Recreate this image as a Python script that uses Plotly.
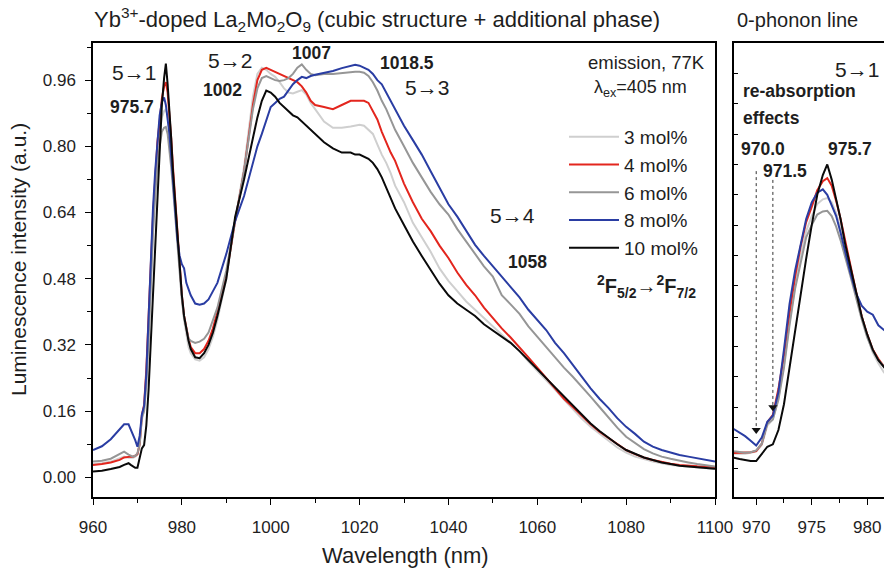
import plotly.graph_objects as go

W, H = 884, 569

wavelength = [960, 962, 964, 966, 967, 968, 968.5, 969, 969.5, 970, 970.5, 971, 971.5, 972, 972.5,
              973, 973.5, 974, 974.5, 975, 975.5, 976, 976.4, 976.8, 977.2, 977.6, 978, 978.5, 979,
              979.5, 980, 980.5, 981, 981.5, 982, 983, 984, 985, 986, 987, 988, 990, 992, 994, 996,
              997, 998, 999, 1000, 1001, 1002, 1003, 1004, 1005, 1006, 1007, 1008, 1009, 1010, 1012,
              1014, 1016, 1018, 1019, 1020, 1021, 1022, 1023, 1024, 1025, 1026, 1027, 1028, 1030,
              1032, 1034, 1036, 1038, 1040, 1042, 1044, 1046, 1048, 1050, 1052, 1054, 1056, 1058,
              1060, 1062, 1064, 1066, 1068, 1070, 1072, 1074, 1076, 1078, 1080, 1082, 1084, 1086,
              1088, 1090, 1092, 1094, 1096, 1098, 1100]

mol3 = [0.032, 0.034, 0.038, 0.045, 0.050, 0.047, 0.047, 0.047, 0.050, 0.055, 0.075, 0.140, 0.160, 0.230, 0.340,
        0.480, 0.600, 0.700, 0.780, 0.830, 0.870, 0.885, 0.889, 0.875, 0.840, 0.790, 0.730, 0.650, 0.570,
        0.500, 0.435, 0.380, 0.345, 0.315, 0.300, 0.285, 0.282, 0.290, 0.310, 0.340, 0.380, 0.480, 0.620, 0.750, 0.920,
        0.975, 0.990, 0.985, 0.975, 0.968, 0.955, 0.940, 0.930, 0.928, 0.932, 0.936, 0.925, 0.905, 0.890, 0.860,
        0.845, 0.845, 0.848, 0.850, 0.852, 0.850, 0.840, 0.830, 0.805, 0.780, 0.760, 0.735, 0.705, 0.665,
        0.615, 0.580, 0.545, 0.505, 0.475, 0.450, 0.425, 0.405, 0.385, 0.365, 0.345, 0.325, 0.305, 0.280,
        0.258, 0.235, 0.212, 0.188, 0.165, 0.142, 0.122, 0.105, 0.088, 0.072, 0.060, 0.050, 0.044, 0.038,
        0.034, 0.030, 0.028, 0.026, 0.024, 0.022, 0.020]

mol4 = [0.030, 0.032, 0.036, 0.042, 0.048, 0.050, 0.050, 0.050, 0.052, 0.056, 0.080, 0.150, 0.175, 0.260, 0.370,
        0.510, 0.630, 0.730, 0.810, 0.860, 0.915, 0.945, 0.955, 0.930, 0.880, 0.820, 0.750, 0.670, 0.580,
        0.500, 0.440, 0.390, 0.360, 0.335, 0.315, 0.300, 0.300, 0.310, 0.330, 0.360, 0.400, 0.490, 0.620, 0.740, 0.900,
        0.960, 0.985, 0.990, 0.985, 0.980, 0.975, 0.970, 0.965, 0.960, 0.955, 0.945, 0.930, 0.910, 0.900, 0.895,
        0.890, 0.900, 0.910, 0.910, 0.910, 0.910, 0.905, 0.885, 0.865, 0.835, 0.810, 0.785, 0.765, 0.710,
        0.665, 0.625, 0.595, 0.560, 0.530, 0.495, 0.465, 0.440, 0.410, 0.385, 0.360, 0.338, 0.315, 0.290,
        0.265, 0.240, 0.215, 0.190, 0.170, 0.148, 0.128, 0.110, 0.095, 0.080, 0.066, 0.056, 0.048, 0.042,
        0.037, 0.033, 0.030, 0.028, 0.027, 0.026, 0.025]

mol6 = [0.038, 0.040, 0.045, 0.055, 0.062, 0.055, 0.052, 0.050, 0.052, 0.058, 0.080, 0.145, 0.160, 0.225, 0.330,
        0.470, 0.590, 0.680, 0.760, 0.800, 0.835, 0.845, 0.847, 0.830, 0.795, 0.750, 0.700, 0.630, 0.560,
        0.490, 0.430, 0.385, 0.355, 0.335, 0.330, 0.325, 0.328, 0.335, 0.350, 0.380, 0.410, 0.500, 0.620, 0.740, 0.890,
        0.940, 0.965, 0.970, 0.965, 0.960, 0.958, 0.960, 0.965, 0.975, 0.990, 0.998, 0.985, 0.975, 0.972, 0.975,
        0.975, 0.977, 0.980, 0.980, 0.980, 0.978, 0.970, 0.955, 0.935, 0.910, 0.890, 0.865, 0.840, 0.800,
        0.760, 0.725, 0.690, 0.660, 0.635, 0.600, 0.570, 0.540, 0.510, 0.485, 0.440, 0.418, 0.395, 0.365,
        0.340, 0.315, 0.290, 0.265, 0.243, 0.220, 0.195, 0.170, 0.145, 0.120, 0.098, 0.082, 0.068, 0.058,
        0.050, 0.045, 0.040, 0.036, 0.032, 0.029, 0.026]

mol8 = [0.066, 0.075, 0.092, 0.115, 0.128, 0.128, 0.116, 0.105, 0.090, 0.074, 0.100, 0.152, 0.172, 0.250, 0.390,
        0.540, 0.650, 0.740, 0.820, 0.875, 0.907, 0.918, 0.900, 0.865, 0.830, 0.775, 0.710, 0.640, 0.575,
        0.535, 0.515, 0.505, 0.470, 0.455, 0.440, 0.420, 0.417, 0.420, 0.430, 0.450, 0.470, 0.540, 0.620, 0.680, 0.760,
        0.800, 0.830, 0.865, 0.895, 0.905, 0.915, 0.920, 0.935, 0.950, 0.960, 0.968, 0.965, 0.970, 0.973, 0.977,
        0.982, 0.989, 0.994, 0.997, 0.995, 0.990, 0.985, 0.975, 0.960, 0.950, 0.930, 0.910, 0.890, 0.850,
        0.815, 0.780, 0.740, 0.700, 0.660, 0.630, 0.595, 0.562, 0.535, 0.510, 0.485, 0.460, 0.435, 0.405,
        0.380, 0.356, 0.325, 0.300, 0.272, 0.242, 0.215, 0.190, 0.168, 0.143, 0.122, 0.105, 0.086, 0.074,
        0.066, 0.060, 0.054, 0.050, 0.046, 0.042, 0.038]

mol10 = [0.014, 0.016, 0.020, 0.025, 0.030, 0.034, 0.030, 0.026, 0.023, 0.023, 0.045, 0.070, 0.078, 0.125, 0.210,
         0.330, 0.450, 0.580, 0.690, 0.800, 0.900, 0.965, 1.000, 0.950, 0.890, 0.820, 0.740, 0.660, 0.580,
         0.500, 0.440, 0.390, 0.355, 0.330, 0.310, 0.290, 0.288, 0.300, 0.320, 0.350, 0.390, 0.480, 0.630, 0.720, 0.820,
         0.870, 0.910, 0.935, 0.930, 0.920, 0.905, 0.895, 0.885, 0.875, 0.870, 0.860, 0.850, 0.840, 0.830, 0.810,
         0.795, 0.785, 0.785, 0.780, 0.780, 0.775, 0.770, 0.760, 0.745, 0.725, 0.700, 0.675, 0.650, 0.610,
         0.570, 0.535, 0.500, 0.468, 0.440, 0.420, 0.405, 0.390, 0.370, 0.355, 0.340, 0.325, 0.305, 0.283,
         0.260, 0.238, 0.216, 0.194, 0.172, 0.150, 0.130, 0.112, 0.095, 0.080, 0.066, 0.056, 0.048, 0.042,
         0.036, 0.032, 0.028, 0.026, 0.024, 0.022, 0.021]

series_names = ["3 mol%", "4 mol%", "6 mol%", "8 mol%", "10 mol%"]
series_values = [mol3, mol4, mol6, mol8, mol10]
series_colors = ["#cfcfcf", "#e3261e", "#969696", "#2a3da3", "#0a0a0a"]

# re-absorption markers in the 0-phonon panel
reabs_x = [970.0, 971.5]
reabs_top = [0.978, 0.949]
reabs_tip = [0.125, 0.200]

x_ticks_main = [960, 980, 1000, 1020, 1040, 1060, 1080, 1100]
y_ticks_main = [0.00, 0.16, 0.32, 0.48, 0.64, 0.80, 0.96]
x_ticks_zoom = [970, 975, 980]

FONT = "Liberation Sans, Arial, sans-serif"
TXT = "#1e1e1e"

def px(x):
    return x / W

def py(y):
    return 1 - y / H

fig = go.Figure()

for name, vals, col in zip(series_names, series_values, series_colors):
    fig.add_trace(go.Scatter(x=wavelength, y=vals, mode="lines", name=name,
                             line=dict(color=col, width=2), xaxis="x", yaxis="y"))
# same spectra in the zero-phonon panel
for name, vals, col in zip(series_names, series_values, series_colors):
    fig.add_trace(go.Scatter(x=wavelength, y=vals, mode="lines", name=name, showlegend=False,
                             line=dict(color=col, width=2), xaxis="x2", yaxis="y2"))

for xr, yt, yb in zip(reabs_x, reabs_top, reabs_tip):
    fig.add_trace(go.Scatter(x=[xr, xr], y=[yt, yb], mode="lines", showlegend=False,
                             line=dict(color="#333", width=1, dash="dot"), xaxis="x2", yaxis="y2"))
    fig.add_trace(go.Scatter(x=[xr], y=[yb], mode="markers", showlegend=False,
                             marker=dict(symbol="triangle-down", size=8, color="#111"),
                             xaxis="x2", yaxis="y2"))

main_xdom = [px(93), px(715)]
zoom_xdom = [px(734), 1.0]
ydom = [py(497.3), py(42.7)]
xr_main = [960, 1100]
yr_main = [-0.0483, 1.0505]
xr_zoom = [968.0, 981.51]
yr_zoom = [-0.0965, 1.401]

axline = dict(showline=True, linecolor="#000", linewidth=1.5, showgrid=False, zeroline=False,
              automargin=False)
overlay = dict(showline=False, showgrid=False, zeroline=False, automargin=False,
               showticklabels=False, tickcolor="#000", ticks="inside", ticklen=4)
tickfont = dict(family=FONT, size=17, color=TXT)

fig.update_layout(
    width=W, height=H,
    margin=dict(l=0, r=0, t=0, b=0, pad=0, autoexpand=False),
    paper_bgcolor="white", plot_bgcolor="white",
    font=dict(family=FONT, color=TXT),
    xaxis=dict(domain=main_xdom, range=xr_main, anchor="y", mirror=True, ticks="outside", ticklen=6,
               tickwidth=1.3, tickcolor="#000", tickvals=x_ticks_main, tickfont=tickfont,
               ticklabelstandoff=8,
               minor=dict(ticks="outside", ticklen=4, dtick=10, tick0=960, tickcolor="#000"), **axline),
    yaxis=dict(domain=ydom, range=yr_main, anchor="x", mirror=True, ticks="outside", ticklen=6,
               tickwidth=1.3, tickcolor="#000", tickvals=y_ticks_main, tickformat=".2f",
               tickfont=tickfont, ticklabelstandoff=6,
               minor=dict(ticks="outside", ticklen=4, dtick=0.08, tick0=0, tickcolor="#000"), **axline),
    xaxis3=dict(overlaying="x", anchor="y", side="top", range=xr_main, dtick=10, tick0=960, **overlay),
    yaxis3=dict(overlaying="y", anchor="x", side="right", range=yr_main, dtick=0.08, tick0=0, **overlay),
    xaxis2=dict(domain=zoom_xdom, range=xr_zoom, anchor="y2", mirror=True, ticks="outside", ticklen=6,
                tickwidth=1.3, tickcolor="#000", tickvals=x_ticks_zoom, tickfont=tickfont,
                ticklabelstandoff=8,
                minor=dict(ticks="outside", ticklen=4, dtick=2.5, tick0=970, tickcolor="#000"), **axline),
    yaxis2=dict(domain=ydom, range=yr_zoom, anchor="x2", mirror=True, ticks="inside", ticklen=4,
                dtick=0.1, tick0=0, tickcolor="#000", showticklabels=False, **axline),
    xaxis4=dict(overlaying="x2", anchor="y2", side="top", range=xr_zoom, dtick=2.5, tick0=970, **overlay),
    legend=dict(x=px(564), y=py(118), xanchor="left", yanchor="top", bgcolor="rgba(0,0,0,0)",
                font=dict(family=FONT, size=19, color=TXT), itemwidth=50, tracegroupgap=0),
    showlegend=True,
)

ann = []

def add(text, x, y, size=19, bold=False, xanchor="center", angle=0):
    t = f"<b>{text}</b>" if bold else text
    ann.append(dict(text=t, x=px(x), y=py(y), xref="paper", yref="paper", showarrow=False,
                    xanchor=xanchor, yanchor="middle", textangle=angle,
                    font=dict(family=FONT, size=size, color=TXT)))

add("Yb<sup>3+</sup>-doped La<sub>2</sub>Mo<sub>2</sub>O<sub>9</sub> (cubic structure + additional phase)",
    92, 20, size=22, xanchor="left")
add("0-phonon line", 735, 20, size=20, xanchor="left")
add("Luminescence intensity (a.u.)", 18, 260, size=21, angle=-90)
add("Wavelength (nm)", 405, 555, size=22)

add("5\u21921", 134, 73, size=21)
add("975.7", 132, 107, size=17.5, bold=True)
add("5\u21922", 230, 60, size=21)
add("1002", 222, 90, size=17.5, bold=True)
add("1007", 311, 53, size=17.5, bold=True)
add("1018.5", 407, 63, size=17.5, bold=True)
add("5\u21923", 427, 87, size=21)
add("emission, 77K", 707, 63, size=18.5, xanchor="right")
add("\u03bb<sub>ex</sub>=405 nm", 592, 88, size=18, xanchor="left")
add("5\u21924", 512, 216, size=21)
add("1058", 527, 262, size=17.5, bold=True)
add("<sup>2</sup>F<sub>5/2</sub>\u2192<sup>2</sup>F<sub>7/2</sub>", 646, 286, size=20, bold=True)

add("5\u21921", 881, 69, size=21, xanchor="right")
add("re-absorption", 741, 91, size=17.5, bold=True, xanchor="left")
add("effects", 741, 118, size=17.5, bold=True, xanchor="left")
add("970.0", 763, 149, size=17.5, bold=True)
add("971.5", 785, 171, size=17.5, bold=True)
add("975.7", 850, 149, size=17.5, bold=True)

fig.update_layout(annotations=ann)

fig.write_html("out.html")
